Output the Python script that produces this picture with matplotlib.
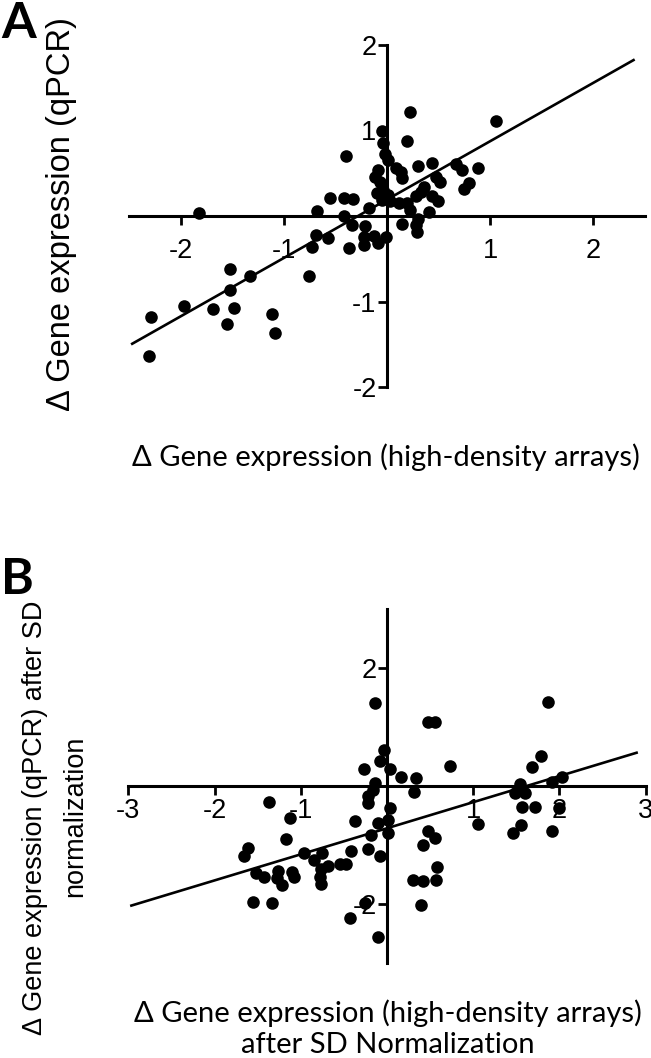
import matplotlib
matplotlib.use('Agg')
import matplotlib.pyplot as plt
import numpy as np

# panel A : arrays vs qPCR (raw delta)
a_x = [-2.31, -2.29, -1.97, -1.82, -1.69, -1.55, -1.52, -1.52, -1.48, -1.33, -1.11, -1.09,
       -0.76, -0.73, -0.69, -0.68, -0.57, -0.55, -0.42, -0.40, -0.42, -0.33, -0.34, -0.37,
       -0.21, -0.22, -0.22, -0.13, -0.09, -0.01, -0.17, -0.10, -0.05, -0.04, -0.02, 0.01,
       0.09, 0.14, 0.15, -0.09, -0.12, -0.07, 0.22, 0.19, 0.30, 0.44, 0.47, 0.51, 0.36,
       0.33, 0.28, 0.44, 0.49, 0.67, 0.73, 0.88, 0.79, 0.75, 1.06, -0.04, 0.01, -0.05,
       0.03, 0.12, 0.19, 0.22, 0.41, 0.30, 0.15, 0.28, 0.29]
a_y = [-1.64, -1.18, -1.05, 0.03, -1.09, -1.26, -0.62, -0.87, -1.08, -0.70, -1.15, -1.37,
       -0.70, -0.36, -0.22, 0.06, -0.26, 0.21, 0.21, 0.70, 0.00, 0.20, -0.10, -0.37,
       -0.12, -0.25, -0.34, -0.23, -0.31, -0.24, 0.09, 0.27, 0.99, 0.85, 0.73, 0.66,
       0.56, 0.52, 0.44, 0.54, 0.46, 0.40, 1.22, 0.88, 0.58, 0.62, 0.46, 0.40, 0.34,
       0.28, 0.23, 0.23, 0.17, 0.61, 0.54, 0.56, 0.39, 0.32, 1.11, 0.30, 0.25, 0.19,
       0.17, 0.15, 0.15, 0.07, 0.05, -0.03, -0.09, -0.11, -0.19]
a_fit = [0.683, 0.192]          # slope, intercept
a_fit_x = [-2.48, 2.40]

# panel B : after SD normalization
b_x = [-0.14, 0.47, 0.56, 1.87, -0.04, -0.08, -0.27, 0.03, 0.16, 0.34, 0.73, -0.14,
       -0.16, -0.22, -0.22, 0.31, 0.04, -1.37, -1.12, -0.37, 0.01, -0.10, 0.01, -0.18,
       1.06, 0.47, 0.56, 0.42, -1.17, -1.61, -1.66, -0.96, -0.75, -0.42, -0.22, -0.08,
       -0.85, -0.76, -0.78, -0.77, -0.68, -0.55, -0.47, -1.52, -1.43, -1.27, -1.28, -1.22,
       -1.10, -1.08, -1.56, -1.33, -0.25, -0.43, -0.10, 0.30, 0.42, 0.58, 0.57, 0.39,
       1.54, 1.48, 1.60, 1.68, 1.79, 1.91, 2.03, 1.57, 1.72, 1.99, 1.56, 1.46, 1.91]
b_y = [1.40, 1.09, 1.09, 1.43, 0.61, 0.42, 0.28, 0.28, 0.15, 0.14, 0.34, 0.05,
       -0.06, -0.17, -0.29, -0.11, -0.37, -0.27, -0.54, -0.60, -0.57, -0.63, -0.80, -0.83,
       -0.65, -0.76, -0.88, -1.00, -0.89, -1.05, -1.18, -1.13, -1.14, -1.11, -1.07, -1.19,
       -1.25, -1.40, -1.54, -1.66, -1.36, -1.32, -1.32, -1.47, -1.55, -1.44, -1.56, -1.68,
       -1.45, -1.54, -1.96, -1.98, -1.98, -2.24, -2.56, -1.59, -1.61, -1.37, -1.59, -2.02,
       0.03, -0.12, -0.12, 0.33, 0.51, 0.07, 0.15, -0.36, -0.35, -0.38, -0.66, -0.80, -0.77]
b_fit = [0.442, -0.716]
b_fit_x = [-2.98, 2.91]

a_xticks = [-2, -1, 1, 2]
a_yticks = [-2, -1, 1, 2]
b_xticks = [-3, -2, -1, 1, 2, 3]
b_yticks = [-2, 2]

plt.rcParams['font.family'] = ['Liberation Sans', 'DejaVu Sans']
lato = ['Lato', 'DejaVu Sans']

W, H = 651, 1058
fig = plt.figure(figsize=(W / 100, H / 100), dpi=100)


def style(ax, xticks, yticks, xpad):
    for s in ['top', 'right']:
        ax.spines[s].set_visible(False)
    for s in ['left', 'bottom']:
        ax.spines[s].set_position(('data', 0))
        ax.spines[s].set_linewidth(2.2)
    ax.set_xticks(xticks)
    ax.set_xticklabels([str(t) for t in xticks])
    ax.set_yticks(yticks)
    ax.set_yticklabels([str(t) for t in yticks])
    ax.tick_params(axis='x', direction='out', length=6.5, width=2, pad=xpad, labelsize=19.5)
    ax.tick_params(axis='y', direction='out', length=6.5, width=2, pad=1, labelsize=19.5)
    ax.patch.set_visible(False)


def panel(ax, x, y, fit, fit_x):
    ax.scatter(x, y, s=82, c='black', linewidths=0, zorder=3, clip_on=False)
    fx = np.array(fit_x)
    ax.plot(fx, fit[0] * fx + fit[1], color='black', lw=1.9, zorder=2.6,
            solid_capstyle='butt')


# panel A
axA = fig.add_axes([129 / W, 1 - 387 / H, 516 / W, 342 / H])
panel(axA, a_x, a_y, a_fit, a_fit_x)
axA.set_xlim(-2.5, 2.5)
axA.set_ylim(-2, 2)
style(axA, a_xticks, a_yticks, 9)

# panel B
axB = fig.add_axes([128.4 / W, 1 - 963 / H, 517.2 / W, 354 / H])
panel(axB, b_x, b_y, b_fit, b_fit_x)
axB.set_xlim(-3, 3)
axB.set_ylim(-3, 3)
style(axB, b_xticks, b_yticks, 2)

fig.text(0.002, 1 - 23 / H, 'A', family=lato, fontsize=36, fontweight='bold', ha='left', va='center')
fig.text(0.002, 1 - 580 / H, 'B', family=lato, fontsize=36, fontweight='bold', ha='left', va='center')

fig.text(385.5 / W, 1 - 457 / H, 'Δ Gene expression (high-density arrays)', family=lato,
         fontsize=21, ha='center', va='center')
fig.text(62 / W, 1 - 214 / H, 'Δ Gene expression (qPCR)', rotation=90, fontsize=23.5,
         ha='center', va='center')

fig.text(388 / W, 1 - 1013 / H, 'Δ Gene expression (high-density arrays)',
         family=lato, fontsize=21, ha='center', va='center')
fig.text(388 / W, 1 - 1045 / H, 'after SD Normalization',
         family=lato, fontsize=21, ha='center', va='center')
fig.text(35 / W, 1 - 818 / H, 'Δ Gene expression (qPCR) after SD', rotation=90,
         fontsize=19.5, ha='center', va='center')
fig.text(75 / W, 1 - 816 / H, 'normalization', rotation=90,
         fontsize=19.5, ha='center', va='center')

fig.savefig('out.png', dpi=100)
